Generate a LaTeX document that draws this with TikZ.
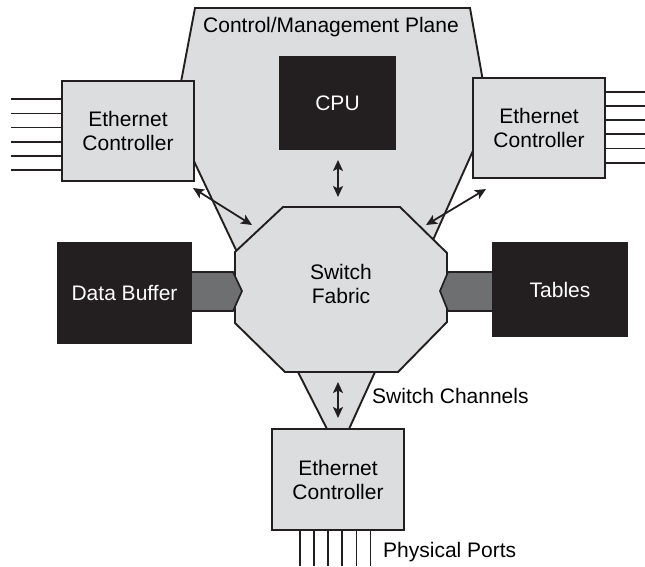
\documentclass[tikz,border=0pt]{standalone}
\usepackage{fontspec}
\setmainfont{Liberation Sans}
\usetikzlibrary{arrows.meta,calc}
\definecolor{lightg}{RGB}{220,221,223}
\definecolor{darkbox}{RGB}{35,31,32}
\definecolor{midg}{RGB}{110,111,113}
\definecolor{lineblk}{RGB}{35,31,32}
\begin{document}
\begin{tikzpicture}[x=1pt,y=-1pt,
  txt/.style={font=\fontsize{21}{24}\selectfont},
  outl/.style={draw=lineblk,line width=1.9pt,line join=miter},
  ec/.style={outl,fill=lightg,minimum width=132pt,minimum height=100pt,align=center,inner sep=0pt,txt},
  blk/.style={fill=darkbox,text=white,inner sep=0pt,txt},
  dbl/.style={{Stealth[length=11pt,width=10pt,inset=2.5pt]}-{Stealth[length=11pt,width=10pt,inset=2.5pt]},line width=1.8pt,draw=lineblk},
  port/.style={draw=lineblk,line width=1.8pt},
  conn/.style={draw=lineblk,line width=1.7pt,fill=midg,line join=miter},
  lbl/.style={txt,inner sep=0pt}]
\useasboundingbox (0,0) rectangle (645,566);
% control / management plane
\path[outl,fill=lightg] (195,8) -- (470,8) -- (489,115) -- (433,240) -- (341,290) -- (237,252) -- (174,119) -- cycle;
% switch channels funnel
\fill[lightg] (298,372) -- (327,429) -- (349,429) -- (375,372) -- cycle;
\draw[outl] (298,372) -- (327,429) (349,429) -- (375,372);
% switch fabric octagon
\path[outl,fill=lightg] (283,207) -- (400,207) -- (447,253) -- (447,322) -- (398,372) -- (285,372) -- (235,323) -- (235,252) -- cycle;
\node[lbl,align=center] (sf) at (341,284) {Switch\\Fabric};
% boxes
\node[ec] (ecl) at (128,131) {Ethernet\\Controller};
\node[ec] (ecr) at (539,128) {Ethernet\\Controller};
\node[ec,minimum height=101pt] (ecb) at (338,479.5) {Ethernet\\Controller};
\node[blk,minimum width=117pt,minimum height=94pt] (cpu) at (337.5,103) {CPU};
\node[blk,minimum width=135pt,minimum height=102pt] (db) at (124.5,293) {Data Buffer};
\node[blk,minimum width=136pt,minimum height=95pt] (tb) at (560,289.5) {Tables};
% buffer / tables connectors
\path[conn] (db.east |- 0,272) -- (233,272) -- (242,291) -- (233,311) -- (db.east |- 0,311);
\path[conn] (tb.west |- 0,272) -- (448,272) -- (440,291) -- (448,311) -- (tb.west |- 0,311);
% arrows
\coordinate (al1) at (193,188);
\coordinate (al2) at (252,225);
\coordinate (ar1) at (486,189);
\coordinate (ar2) at (426,225);
\coordinate (cp1) at (338,160);
\coordinate (cp2) at (338,197);
\coordinate (sc1) at (338,382);
\coordinate (sc2) at (338,418);
\draw[dbl] (al1) -- (al2);
\draw[dbl] (ar1) -- (ar2);
\draw[dbl] (cp1) -- (cp2);
\draw[dbl] (sc1) -- (sc2);
% ports
\foreach \i in {0,...,5} {
  \draw[port] (ecl.west |- 0,{99.3+14.1*\i}) -- (11,{99.3+14.1*\i});
  \draw[port] (ecr.east |- 0,{91.7+14.2*\i}) -- (645,{91.7+14.2*\i});
  \draw[port] (ecb.south -| {300+14.1*\i},0) -- ({300+14.1*\i},566);
}
% labels
\node[lbl,anchor=base] (cmp) at (331,32) {Control/Management Plane};
\node[lbl,anchor=base west] (scl) at (372,403) {Switch Channels};
\node[lbl,anchor=base west] (ppl) at (383,557) {Physical Ports};
\end{tikzpicture}
\end{document}
